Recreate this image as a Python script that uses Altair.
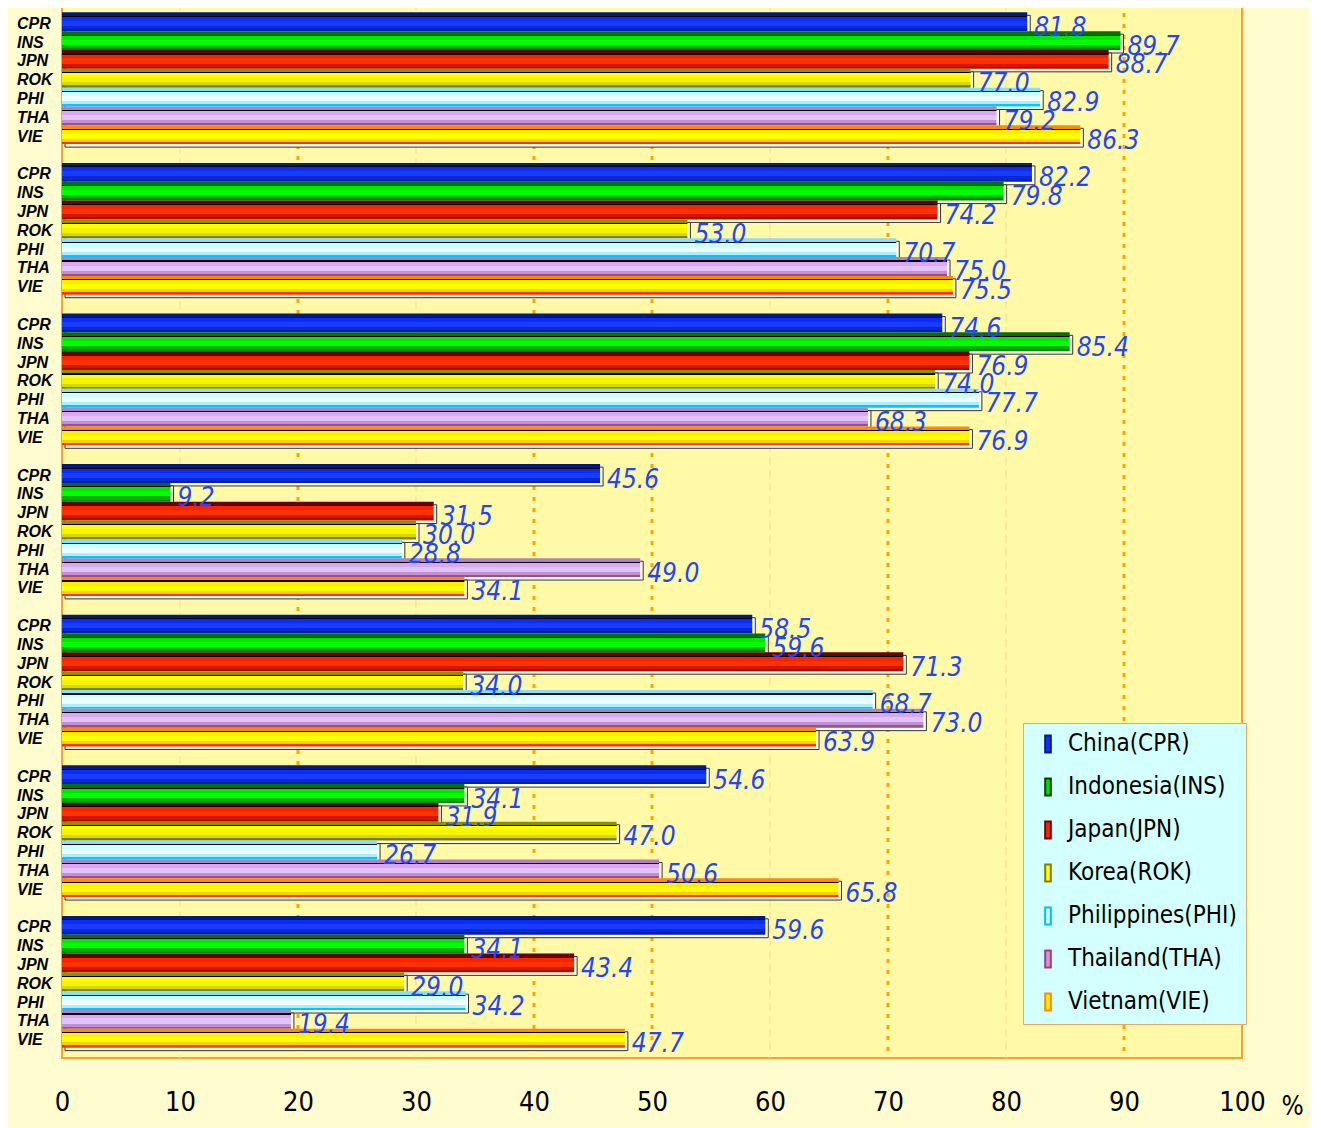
import altair as alt
import pandas as pd

# ---- data ----
groups = ["G1", "G2", "G3", "G4", "G5", "G6", "G7"]
countries = ["CPR", "INS", "JPN", "ROK", "PHI", "THA", "VIE"]
country_names = ["China(CPR)", "Indonesia(INS)", "Japan(JPN)", "Korea(ROK)",
                 "Philippines(PHI)", "Thailand(THA)", "Vietnam(VIE)"]
g1 = [81.8, 89.7, 88.7, 77.0, 82.9, 79.2, 86.3]
g2 = [82.2, 79.8, 74.2, 53.0, 70.7, 75.0, 75.5]
g3 = [74.6, 85.4, 76.9, 74.0, 77.7, 68.3, 76.9]
g4 = [45.6, 9.2, 31.5, 30.0, 28.8, 49.0, 34.1]
g5 = [58.5, 59.6, 71.3, 34.0, 68.7, 73.0, 63.9]
g6 = [54.6, 34.1, 31.9, 47.0, 26.7, 50.6, 65.8]
g7 = [59.6, 34.1, 43.4, 29.0, 34.2, 19.4, 47.7]
group_values = [g1, g2, g3, g4, g5, g6, g7]
x_ticks = [0, 10, 20, 30, 40, 50, 60, 70, 80, 90, 100]
bold_grid = [20, 40, 50, 70, 90]
faint_grid = [10, 30, 60, 80]

# ---- styles ----
FONT_N = "Liberation Sans Narrow, DejaVu Sans Condensed, Liberation Sans"
# (top, bright, bright2, lower, bottom)
bar_colors = {
    "CPR": ["#001A85", "#0A2DFF", "#1A3CFF", "#0A2AD0", "#0020B0"],
    "INS": ["#007300", "#00E800", "#00FF00", "#00B000", "#008800"],
    "JPN": ["#6A0000", "#FF2200", "#FF3300", "#D01800", "#A81000"],
    "ROK": ["#8F8F00", "#FFFF00", "#F4F400", "#D8D800", "#808000"],
    "PHI": ["#80E0FF", "#CCFFFF", "#EEFFFF", "#A8F0FF", "#00C8FF"],
    "THA": ["#B080C0", "#D8A8F4", "#E2C2FF", "#C090D0", "#A05080"],
    "VIE": ["#FF8800", "#FFEE00", "#FFFF00", "#FFCC00", "#FF3300"],
}
legend_fill = ["#1030FF", "#00DD00", "#FF2200", "#FFFF00", "#D8FFFF", "#CC99DD", "#FFEE00"]
legend_stroke = ["#001A80", "#004400", "#700000", "#808000", "#00C0F0", "#A04080", "#FF8800"]

# ---- table ----
rows = []
for g, vals in zip(groups, group_values):
    for c, n, v in zip(countries, country_names, vals):
        rows.append({"group": g, "country": c, "name": n, "value": v, "key": f"{g}-{c}"})
df = pd.DataFrame(rows)

ykeys = []
for i, g in enumerate(groups):
    ykeys += [f"{g}-{c}" for c in countries]
    if i < len(groups) - 1:
        ykeys.append(f"gap{i}")

xscale = alt.Scale(domain=[0, 100], nice=False, zero=True)
xaxis = alt.Axis(values=x_ticks, labelFontSize=27, labelFont=FONT_N, labelColor="black",
                 ticks=False, domain=False, grid=False, labelPadding=44,
                 labelBaseline="middle", labelFlush=False, labelOverlap=False,
                 title="%", titleX=1219, titleY=48, titleAlign="left",
                 titleBaseline="middle", titleAngle=0, titleFontSize=26,
                 titleFontWeight="normal", titleFont=FONT_N, titleColor="black")
yscale = alt.Scale(domain=ykeys, paddingInner=0, paddingOuter=0.55)
yenc = alt.Y("key:N", scale=yscale, axis=None)
xenc = alt.X("value:Q", scale=xscale, axis=xaxis)

# grid rules
bold_df = pd.DataFrame({"value": bold_grid})
faint_df = pd.DataFrame({"value": faint_grid})
faint_rules = alt.Chart(faint_df).mark_rule(color="#FFD98C", strokeWidth=1,
                                            strokeDash=[8, 5]).encode(x=xenc)
bold_rules = alt.Chart(bold_df).mark_rule(color="#FFA500", strokeWidth=3,
                                          strokeDash=[4, 7]).encode(x=xenc)

# shadow boxes
shadow = alt.Chart(df).mark_bar(fill="#FFFFE6", stroke="#333333", strokeWidth=1,
                                yOffset=3, xOffset=3).encode(x=xenc, y=yenc)

# gradient bars, one layer per country
bar_layers = []
for c in countries:
    top, b1, b2, low, bot = bar_colors[c]
    stops = [
        (0.0, top), (0.18, top), (0.18, "#000000"), (0.24, "#000000"),
        (0.24, b1), (0.45, b1), (0.45, b2), (0.72, b2),
        (0.72, low), (0.88, low), (0.88, bot), (1.0, bot),
    ]
    grad = alt.Gradient(gradient="linear", x1=0, x2=0, y1=0, y2=1,
                        stops=[alt.GradientStop(offset=o, color=col) for o, col in stops])
    layer = (alt.Chart(df).transform_filter(alt.datum.country == c)
             .mark_bar(fill=grad, strokeWidth=0)
             .encode(x=xenc, y=yenc))
    bar_layers.append(layer)

# value labels
labels = alt.Chart(df).mark_text(align="left", baseline="middle", dx=7, dy=6,
                                 fontStyle="italic", fontSize=26, font=FONT_N,
                                 color="#2244FF").encode(
    x=xenc, y=yenc, text=alt.Text("value:Q", format=".1f"))

# country labels on the left
cats = alt.Chart(df).mark_text(align="left", baseline="middle", dy=2,
                               fontWeight="bold", fontStyle="italic", fontSize=16,
                               font="Liberation Sans, Arial", color="black").encode(
    x=alt.value(-45), y=yenc, text="country:N")

# legend
leg = alt.Legend(title=None, orient="none", legendX=961, legendY=721,
                 fillColor="#D4FFFF", strokeColor="#E8A868", padding=9,
                 symbolType="M-0.33,-1H0.33V1H-0.33Z", symbolSize=289,
                 symbolStrokeWidth=2, symbolOffset=4, labelFont=FONT_N,
                 labelFontSize=24, labelColor="black", rowPadding=17,
                 labelOffset=8, labelLimit=300)
legend_layer = alt.Chart(df).mark_rect().encode(
    x=alt.value(0), x2=alt.value(0), y=alt.value(0), y2=alt.value(0),
    fill=alt.Fill("name:N", scale=alt.Scale(domain=country_names, range=legend_fill), legend=leg),
    stroke=alt.Stroke("name:N", scale=alt.Scale(domain=country_names, range=legend_stroke), legend=leg),
)

chart = alt.layer(faint_rules, bold_rules, shadow, *bar_layers, labels, cats, legend_layer).properties(
    width=1180, height=1056,
    background="#FFFDD0",
    autosize=alt.AutoSizeParams(type="none"),
    padding={"left": 54, "top": -6, "right": 68, "bottom": 70},
).configure_view(fill="#FFF9A8", stroke="#FFA030", strokeWidth=2)

chart.save("out.html", embed_options={"renderer": "svg", "actions": False})
